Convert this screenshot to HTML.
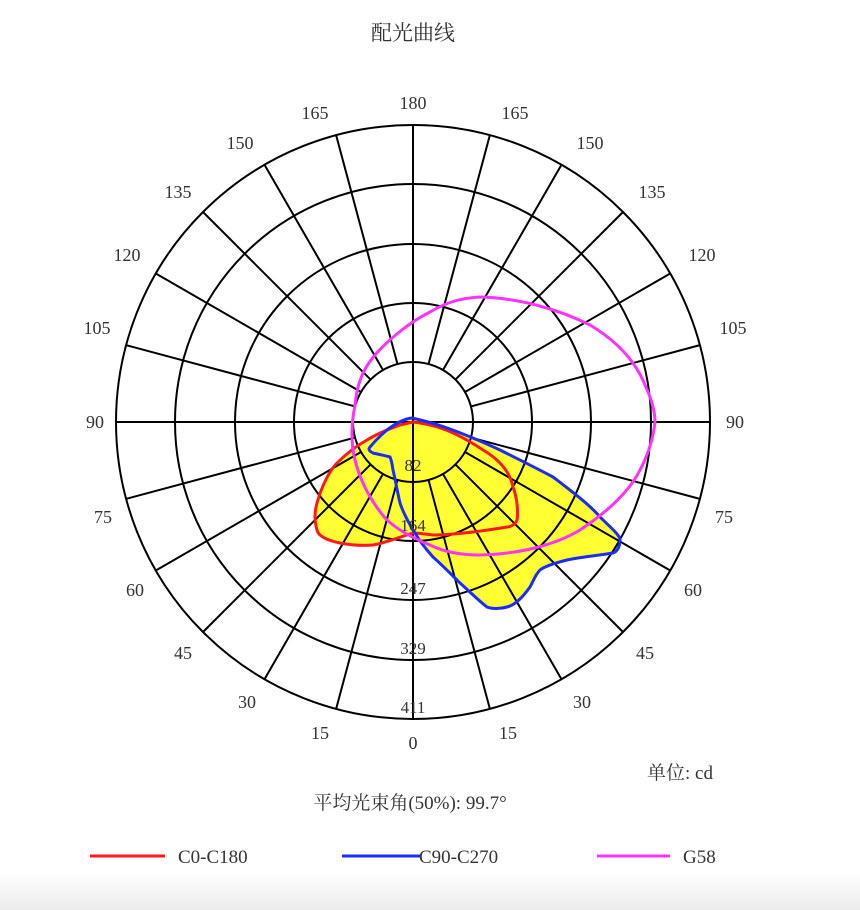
<!DOCTYPE html>
<html><head><meta charset="utf-8"><style>
html,body{margin:0;padding:0;background:#fff}
svg{display:block}
text{font-family:"Liberation Serif","Noto Serif CJK SC",serif;fill:#333}
</style></head><body>
<svg width="860" height="910" viewBox="0 0 860 910" xmlns="http://www.w3.org/2000/svg">
<defs><linearGradient id="g" x1="0" y1="0" x2="0" y2="1"><stop offset="0" stop-color="#fff"/><stop offset="1" stop-color="#ececec"/></linearGradient></defs>
<rect x="0" y="872" width="860" height="38" fill="url(#g)"/>
<text x="413" y="40" font-size="21" text-anchor="middle">配光曲线</text>
<g fill="#ffff33" stroke="none">
<path id="rp" d="M413,422 C430,424 450,428 483,450 C500,460 510,472 513,487 C518,500 518,515 517,520 C515,525 510,527 507,527 C490,530 480,531 473,532 C455,534 440,535 433,535 C425,534 418,533 413,533 C400,537 385,543 373,545 C360,546 350,545 340,543 C325,540 318,535 317,530 C314,520 315,510 317,503 C322,485 330,470 337,463 C348,452 358,445 367,440 C380,432 392,428 400,425 Z"/>
<path id="bp" d="M412,418 C430,422 450,427 500,450 C520,460 540,470 553,477 C570,490 590,505 600,517 C610,527 620,535 620,540 C620,548 616,552 613,553 C595,556 580,557 567,560 C555,563 545,566 540,570 C535,575 533,582 530,587 C522,598 515,605 507,607 C500,609 492,609 487,607 C478,600 468,590 460,583 C450,573 440,563 433,557 C425,548 419,540 415,533 C408,522 403,512 400,503 C397,490 395,478 393,470 C392,463 391,459 390,457 C383,455 377,454 373,453 C369,451 368,449 370,447 C375,441 381,435 387,430 C395,424 403,419 412,418 Z"/>
</g>
<g stroke="#000" stroke-width="2" fill="none">
<circle cx="413" cy="422" r="60"/>
<circle cx="413" cy="422" r="119"/>
<circle cx="413" cy="422" r="178"/>
<circle cx="413" cy="422" r="238"/>
<circle cx="413" cy="422" r="297"/>
<line x1="116" y1="422" x2="710" y2="422"/>
<line x1="413" y1="125" x2="413" y2="719"/>
</g>
<g id="spokes" stroke="#000" stroke-width="2"></g>
<g fill="none" stroke-width="3">
<use href="#rp" stroke="#ff1a1a"/>
<use href="#bp" stroke="#1a2cff"/>
<path stroke="#ff33ff" d="M480,297 C520,298 560,310 590,325 C615,340 635,360 645,385 C652,400 655,412 655,422 C653,440 648,455 640,470 C630,490 610,510 580,530 C555,545 520,554 480,555 C455,555 440,550 430,545 C410,537 395,528 385,518 C370,500 360,480 355,460 C350,440 352,420 355,405 C357,385 362,370 375,355 C390,338 410,322 430,312 C445,303 460,298 480,297 Z"/>
</g>
<g font-size="17" text-anchor="middle" fill="#555">
<text x="413" y="471">82</text><text x="413" y="531">164</text><text x="413" y="594">247</text><text x="413" y="654">329</text><text x="413" y="713">411</text>
</g>
<g font-size="18" text-anchor="middle">
<text x="95" y="428">90</text><text x="735" y="428">90</text>
<text x="97" y="334">105</text><text x="733" y="334">105</text>
<text x="127" y="261">120</text><text x="702" y="261">120</text>
<text x="178" y="198">135</text><text x="652" y="198">135</text>
<text x="240" y="149">150</text><text x="590" y="149">150</text>
<text x="315" y="119">165</text><text x="515" y="119">165</text>
<text x="413" y="109">180</text>
<text x="103" y="523">75</text><text x="724" y="523">75</text>
<text x="135" y="596">60</text><text x="693" y="596">60</text>
<text x="183" y="659">45</text><text x="645" y="659">45</text>
<text x="247" y="708">30</text><text x="582" y="708">30</text>
<text x="320" y="739">15</text><text x="508" y="739">15</text>
<text x="413" y="749">0</text>
</g>
<text x="680" y="779" font-size="19" text-anchor="middle">单位: cd</text>
<text x="410" y="809" font-size="19" text-anchor="middle">平均光束角(50%): 99.7°</text>
<g stroke-width="3">
<line x1="90" y1="856" x2="165" y2="856" stroke="#ff1a1a"/>
<line x1="342" y1="856" x2="420" y2="856" stroke="#1a2cff"/>
<line x1="597" y1="856" x2="670" y2="856" stroke="#ff33ff"/>
</g>
<g font-size="19"><text x="178" y="863">C0-C180</text><text x="419" y="863">C90-C270</text><text x="683" y="863">G58</text></g>
<script>
(function(){
var ns="http://www.w3.org/2000/svg",s1=document.getElementById("spokes");
for(var a=0;a<360;a+=15){if(a%90===0)continue;var r=a*Math.PI/180;
var x1=413+60*Math.sin(r),y1=422+60*Math.cos(r),x2=413+297*Math.sin(r),y2=422+297*Math.cos(r);
var l=document.createElementNS(ns,"line");l.setAttribute("x1",x1);l.setAttribute("y1",y1);l.setAttribute("x2",x2);l.setAttribute("y2",y2);
s1.appendChild(l);}
})();
</script>
</svg>
</body></html>
